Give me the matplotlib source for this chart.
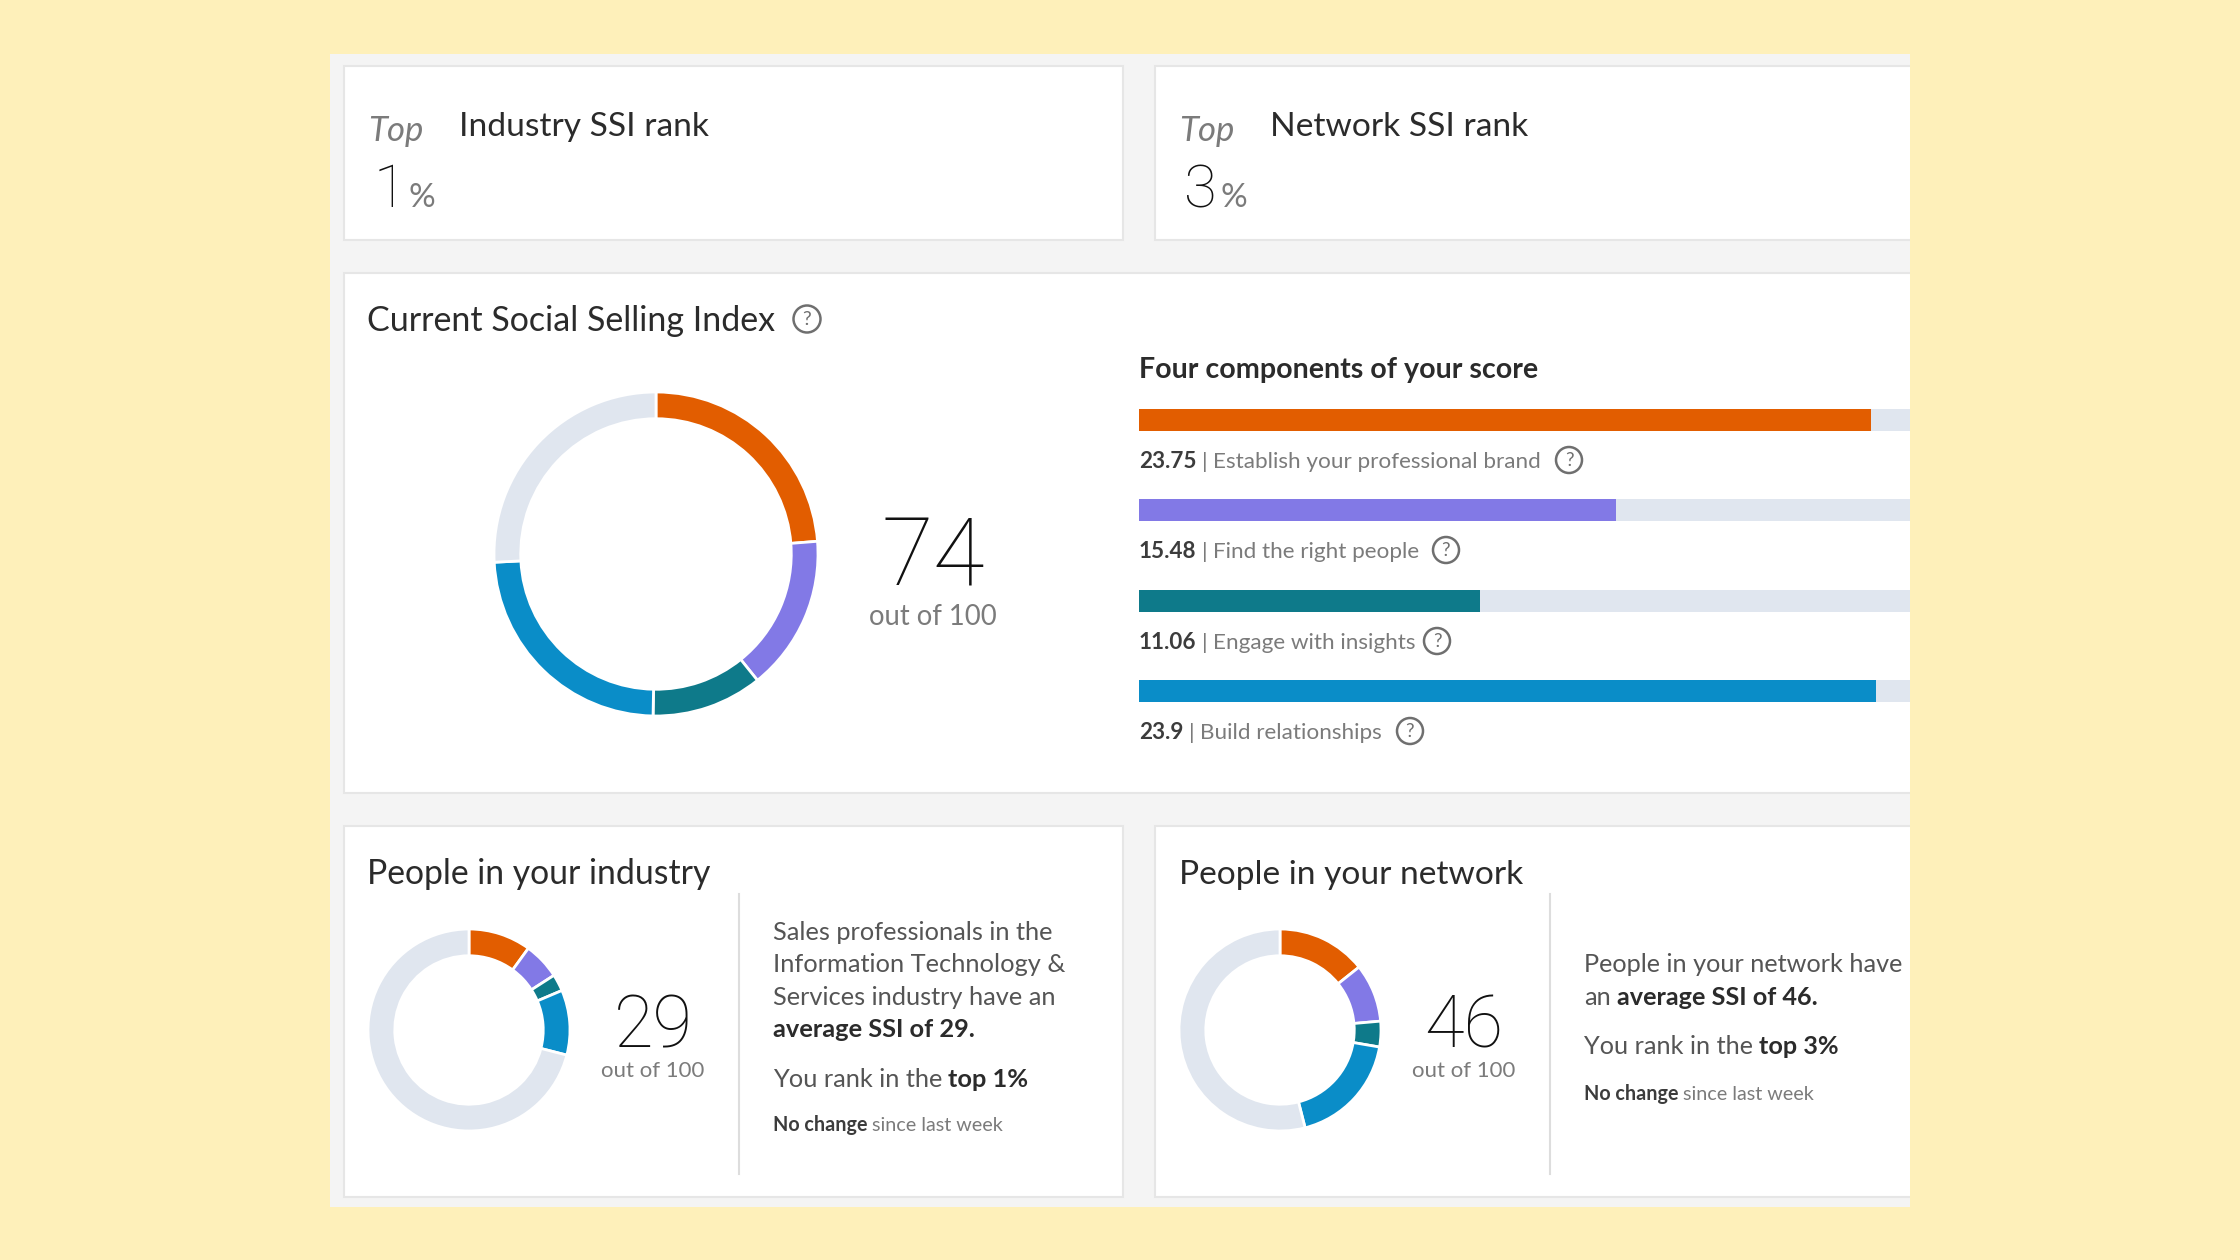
import matplotlib
matplotlib.use("Agg")
import matplotlib.pyplot as plt
from matplotlib.patches import Rectangle, Circle

# colours of the four components, then the empty track
colors = ['#E25D00', '#8279E6', '#0E7A8A', '#0A8DC8']
track = '#E0E6EF'

main_scores = [23.75, 15.48, 11.06, 23.9]
main_names = ['Establish your professional brand', 'Find the right people',
              'Engage with insights', 'Build relationships']
main_labels = ['23.75', '15.48', '11.06', '23.9']
bar_max = 25

industry_parts = [10.0, 5.9, 2.7, 10.4]
network_parts = [14.3, 9.3, 4.1, 18.3]

FONT = 'Lato'
DARK = '#2b2b2b'
GRAY = '#7b7b7b'
BODY = '#555555'

plt.rcParams['font.family'] = [FONT, 'DejaVu Sans']

W, H = 2240, 1260
fig = plt.figure(figsize=(22.4, 12.6), dpi=100, facecolor='#FEF0BA')
ax = fig.add_axes([0, 0, 1, 1], zorder=0)
ax.set_xlim(0, W)
ax.set_ylim(H, 0)
ax.axis('off')


def card(x0, y0, x1, y1):
    ax.add_patch(Rectangle((x0, y0), x1 - x0, y1 - y0, fc='white', ec='#E6E6E6', lw=1.5))


def txt(x, y, s, size, color=DARK, **kw):
    return ax.text(x, y, s, fontsize=size, color=color, va='baseline', **kw)


def num(x, y, s, size, **kw):
    # the big thin figures
    return txt(x, y, s, size, color='#111111', family='Roboto', fontweight='light', **kw)


def runs(x, y, parts, size):
    # text with mixed weights on one line
    r = fig.canvas.get_renderer()
    for s, weight, color in parts:
        t = txt(x, y, s, size, color=color, fontweight=weight)
        x = t.get_window_extent(r).x1 + size * 0.33


def qmark(x, y, r):
    ax.add_patch(Circle((x, y), r, fc='none', ec='#6f6f6f', lw=1.8))
    ax.text(x, y + 0.5, '?', fontsize=r * 1.05, color='#6f6f6f', ha='center', va='center')


def donut(cx, cy, r, values, width):
    a = fig.add_axes([(cx - r) / W, 1 - (cy + r) / H, 2 * r / W, 2 * r / H], zorder=2)
    a.pie(list(values) + [100 - sum(values)], colors=colors + [track], startangle=90,
          counterclock=False, radius=1,
          wedgeprops=dict(width=width, edgecolor='white', linewidth=2))
    a.set_xlim(-1, 1)
    a.set_ylim(-1, 1)
    a.axis('off')


# page background and cards
ax.add_patch(Rectangle((330, 54), 1580, 1153, fc='#F4F4F4', ec='none'))
card(344, 66, 1123, 240)
card(1155, 66, 1915, 240)
card(344, 273, 1915, 793)
card(344, 826, 1123, 1197)
card(1155, 826, 1915, 1197)
ax.add_patch(Rectangle((1910, 40), 330, 1180, fc='#FEF0BA', ec='none', zorder=1))

# top cards
txt(368, 141, 'Top', 25, color=GRAY, fontstyle='italic')
txt(459, 136, 'Industry SSI rank', 24.1)
num(374, 207, '1', 43)
txt(409, 207, '%', 24, color=GRAY)
txt(1179, 141, 'Top', 25, color=GRAY, fontstyle='italic')
txt(1270, 136, 'Network SSI rank', 24.1)
num(1184, 207, '3', 43)
txt(1220, 207, '%', 24, color=GRAY)

# middle card
txt(367, 331, 'Current Social Selling Index', 24.5)
qmark(807, 319, 13.5)
donut(656, 554, 162, main_scores, 0.165)
num(933, 586, '74', 68, ha='center')
txt(933, 625, 'out of 100', 19.8, color=GRAY, ha='center')

txt(1139, 378, 'Four components of your score', 20.6, fontweight='bold')

bars = fig.add_axes([1139 / W, 0, (1910 - 1139) / W, 1], zorder=2)
bars.set_xlim(0, bar_max)
bars.set_ylim(H, 0)
bars.axis('off')
bar_y = [420, 510, 601, 691]
bars.barh(bar_y, [bar_max] * 4, height=22, color=track)
bars.barh(bar_y, main_scores, height=22, color=colors)

label_y = [468, 558, 649, 739]
q_x = [1569, 1446, 1437, 1410]
for lab, name, y, qx in zip(main_labels, main_names, label_y, q_x):
    runs(1139, y, [(lab, 'bold', '#3c3c3c'), ('|', 'normal', GRAY), (name, 'normal', GRAY)], 16.2)
    qmark(qx, y - 8, 13)

# bottom left card
txt(367, 884, 'People in your industry', 24.3)
donut(469, 1030, 101, industry_parts, 0.265)
num(653, 1047, '29', 52, ha='center')
txt(653, 1077, 'out of 100', 16, color=GRAY, ha='center')
ax.plot([739, 739], [894, 1174], color='#DDDDDD', lw=1.5)
txt(773, 940, 'Sales professionals in the', 18.3, color=BODY)
txt(773, 972, 'Information Technology &', 18.3, color=BODY)
txt(773, 1005, 'Services industry have an', 18.3, color=BODY)
txt(773, 1037, 'average SSI of 29.', 18.3, fontweight='bold')
runs(773, 1087, [('You rank in the', 'normal', BODY), ('top 1%', 'bold', DARK)], 18.3)
runs(773, 1131, [('No change', 'bold', '#3c3c3c'), ('since last week', 'normal', GRAY)], 14.2)

# bottom right card
txt(1179, 884, 'People in your network', 24.1)
donut(1280, 1030, 101, network_parts, 0.265)
num(1464, 1047, '46', 52, ha='center')
txt(1464, 1077, 'out of 100', 16, color=GRAY, ha='center')
ax.plot([1550, 1550], [894, 1174], color='#DDDDDD', lw=1.5)
txt(1584, 972, 'People in your network have', 18.2, color=BODY)
runs(1584, 1005, [('an', 'normal', BODY), ('average SSI of 46.', 'bold', DARK)], 18.2)
runs(1584, 1054, [('You rank in the', 'normal', BODY), ('top 3%', 'bold', DARK)], 18.2)
runs(1584, 1100, [('No change', 'bold', '#3c3c3c'), ('since last week', 'normal', GRAY)], 14.2)

fig.savefig('out.png', dpi=100, facecolor=fig.get_facecolor())
